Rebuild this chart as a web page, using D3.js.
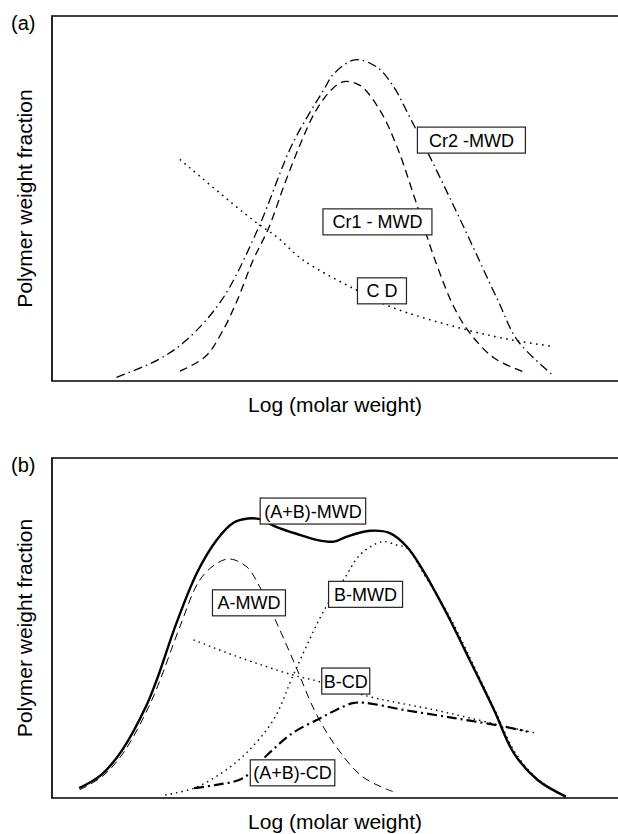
<!DOCTYPE html>
<html>
<head>
<meta charset="utf-8">
<script src="https://cdn.jsdelivr.net/npm/d3@7"></script>
<style>
  html, body { margin: 0; padding: 0; background: #fff; }
  svg { display: block; font-family: "Liberation Sans", Arial, Helvetica, sans-serif; }
</style>
</head>
<body>
<svg id="chart" width="618" height="834"></svg>
<script>
// ---------- DATA (x: log molar weight, arbitrary 0-10; y: weight fraction, 0-1) ----------
// Panel (a)
const cr1X = [2.26, 2.71, 2.99, 3.27, 3.55, 3.83, 4.11, 4.39, 4.66, 4.95, 5.16, 5.44, 5.80, 6.10, 6.41, 6.77, 7.11, 7.39, 7.81, 8.33];
const cr1Y = [0.027, 0.067, 0.13, 0.22, 0.33, 0.42, 0.54, 0.65, 0.74, 0.80, 0.82, 0.81, 0.74, 0.64, 0.50, 0.33, 0.20, 0.13, 0.063, 0.025];

const cr2X = [1.14, 1.87, 2.36, 2.99, 3.62, 4.25, 4.81, 4.97, 5.35, 5.74, 6.02, 6.33, 6.69, 7.31, 7.88, 8.23, 8.85];
const cr2Y = [0.010, 0.058, 0.11, 0.22, 0.41, 0.65, 0.80, 0.84, 0.88, 0.86, 0.81, 0.72, 0.61, 0.41, 0.22, 0.11, 0.016];

const cdX = [2.26, 3.55, 3.97, 4.43, 5.38, 5.97, 7.33, 8.21, 8.80];
const cdY = [0.607, 0.441, 0.395, 0.332, 0.249, 0.204, 0.140, 0.110, 0.096];

// Panel (b)
const abMwdX = [0.48, 0.87, 1.24, 1.66, 1.85, 2.20, 2.56, 2.91, 3.20, 3.46, 3.67, 3.97, 4.38, 4.68, 4.98, 5.21, 5.62, 5.97, 6.27, 6.55, 6.97, 7.38, 7.81, 8.16, 8.58, 9.08];
const abMwdY = [0.029, 0.068, 0.141, 0.269, 0.347, 0.515, 0.662, 0.759, 0.809, 0.822, 0.820, 0.797, 0.774, 0.759, 0.754, 0.769, 0.786, 0.779, 0.739, 0.671, 0.544, 0.406, 0.259, 0.132, 0.053, 0.004];

const aMwdX = [0.49, 0.90, 1.27, 1.70, 1.91, 2.26, 2.61, 2.91, 3.14, 3.44, 3.67, 3.97, 4.31, 4.66, 5.02, 5.49, 6.02];
const aMwdY = [0.024, 0.065, 0.135, 0.265, 0.347, 0.504, 0.641, 0.690, 0.703, 0.680, 0.621, 0.515, 0.386, 0.25, 0.151, 0.062, 0.019];

const bMwdX = [2.00, 2.51, 3.00, 3.43, 3.91, 4.28, 4.81, 5.15, 5.44, 5.74, 5.88, 6.09, 6.27, 6.59, 7.01, 7.42, 7.84, 8.20, 8.62, 9.10];
const bMwdY = [0.009, 0.029, 0.074, 0.132, 0.229, 0.368, 0.553, 0.641, 0.715, 0.749, 0.754, 0.744, 0.735, 0.653, 0.538, 0.400, 0.253, 0.129, 0.050, 0.003];

const bCdX = [2.50, 3.27, 4.25, 4.73, 5.61, 6.15, 6.76, 7.39, 8.02, 8.58];
const bCdY = [0.465, 0.416, 0.362, 0.342, 0.298, 0.279, 0.259, 0.235, 0.210, 0.190];

const abCdX = [2.51, 2.88, 3.37, 3.83, 4.25, 4.73, 5.02, 5.31, 5.53, 6.22, 7.11, 7.99, 8.40];
const abCdY = [0.029, 0.038, 0.058, 0.131, 0.191, 0.234, 0.259, 0.279, 0.280, 0.259, 0.235, 0.210, 0.195];

// Labels
const labelsA = ["Cr2 -MWD", "Cr1 - MWD", "C D"];
const labelsAX = [7.41, 5.75, 5.83];
const labelsAY = [0.660, 0.436, 0.247];
const labelsB = ["(A+B)-MWD", "A-MWD", "B-MWD", "B-CD", "(A+B)-CD"];
const labelsBX = [4.61, 3.48, 5.54, 5.19, 4.25];
const labelsBY = [0.844, 0.574, 0.599, 0.344, 0.074];

const panelTags = ["(a)", "(b)"];
const xTitle = "Log (molar weight)";
const yTitle = "Polymer weight fraction";

// ---------- DRAWING ----------
const svg = d3.select("#chart");
const zip = (xs, ys) => xs.map((x, i) => [x, ys[i]]);

const styles = {
  dashed:   { w: 1.3, dash: "8,5" },
  dashdot:  { w: 1.3, dash: "9,4,1.5,4" },
  dotted:   { w: 1.5, dash: "1.6,4.5" },
  solid:    { w: 2.4, dash: null },
  thinDash: { w: 1.0, dash: "8,5" },
  dots:     { w: 1.4, dash: "1.5,4" },
  thickDD:  { w: 2.2, dash: "10,4,2,4" }
};

function drawPanel(cfg) {
  const x = d3.scaleLinear().domain([0, 10]).range([cfg.left, cfg.right]);
  const y = d3.scaleLinear().domain([0, 1]).range([cfg.bottom, cfg.top]);
  const g = svg.append("g");

  const line = d3.line().x(d => x(d[0])).y(d => y(d[1])).curve(d3.curveCatmullRom.alpha(0.5));

  cfg.series.forEach(s => {
    const st = styles[s.style];
    g.append("path")
      .attr("d", line(zip(s.xs, s.ys)))
      .attr("fill", "none")
      .attr("stroke", "#000")
      .attr("stroke-width", st.w)
      .attr("stroke-dasharray", st.dash)
      .attr("stroke-linecap", "butt");
  });

  // frame: left, top, bottom
  g.append("path")
    .attr("d", `M${cfg.right},${cfg.top}H${cfg.left}V${cfg.bottom}H${cfg.right}`)
    .attr("fill", "none").attr("stroke", "#000").attr("stroke-width", 1.7);

  // label boxes
  cfg.labels.forEach((t, i) => {
    const cx = x(cfg.lx[i]), cy = y(cfg.ly[i]);
    const lg = g.append("g");
    const txt = lg.append("text")
      .attr("x", cx).attr("y", cy + 6.5)
      .attr("text-anchor", "middle")
      .attr("font-size", 18)
      .text(t);
    const tw = txt.node().getComputedTextLength();
    const pad = cfg.pads[i];
    lg.insert("rect", "text")
      .attr("x", cx - tw / 2 - pad).attr("y", cy - 13)
      .attr("width", tw + 2 * pad).attr("height", 26)
      .attr("fill", "#fff").attr("stroke", "#222").attr("stroke-width", 1.2);
  });

  // tag
  g.append("text").attr("x", 11).attr("y", cfg.top + 14)
    .attr("font-size", 20).text(cfg.tag);

  // axis titles
  g.append("text")
    .attr("x", (cfg.left + cfg.right) / 2).attr("y", cfg.bottom + 31)
    .attr("text-anchor", "middle").attr("font-size", 21).text(xTitle);
  g.append("text")
    .attr("transform", `translate(32,${(cfg.top + cfg.bottom) / 2}) rotate(-90)`)
    .attr("text-anchor", "middle").attr("font-size", 21).text(yTitle);
}

drawPanel({
  left: 52, right: 618, top: 16, bottom: 381, tag: panelTags[0],
  series: [
    { xs: cr1X, ys: cr1Y, style: "dashed" },
    { xs: cr2X, ys: cr2Y, style: "dashdot" },
    { xs: cdX, ys: cdY, style: "dotted" }
  ],
  labels: labelsA, lx: labelsAX, ly: labelsAY, pads: [11.5, 9.5, 9]
});

drawPanel({
  left: 52, right: 618, top: 458, bottom: 798, tag: panelTags[1],
  series: [
    { xs: aMwdX, ys: aMwdY, style: "thinDash" },
    { xs: bMwdX, ys: bMwdY, style: "dots" },
    { xs: bCdX, ys: bCdY, style: "dots" },
    { xs: abCdX, ys: abCdY, style: "thickDD" },
    { xs: abMwdX, ys: abMwdY, style: "solid" }
  ],
  labels: labelsB, lx: labelsBX, ly: labelsBY, pads: [4, 5, 5.5, 2, 3]
});
</script>
</body>
</html>
